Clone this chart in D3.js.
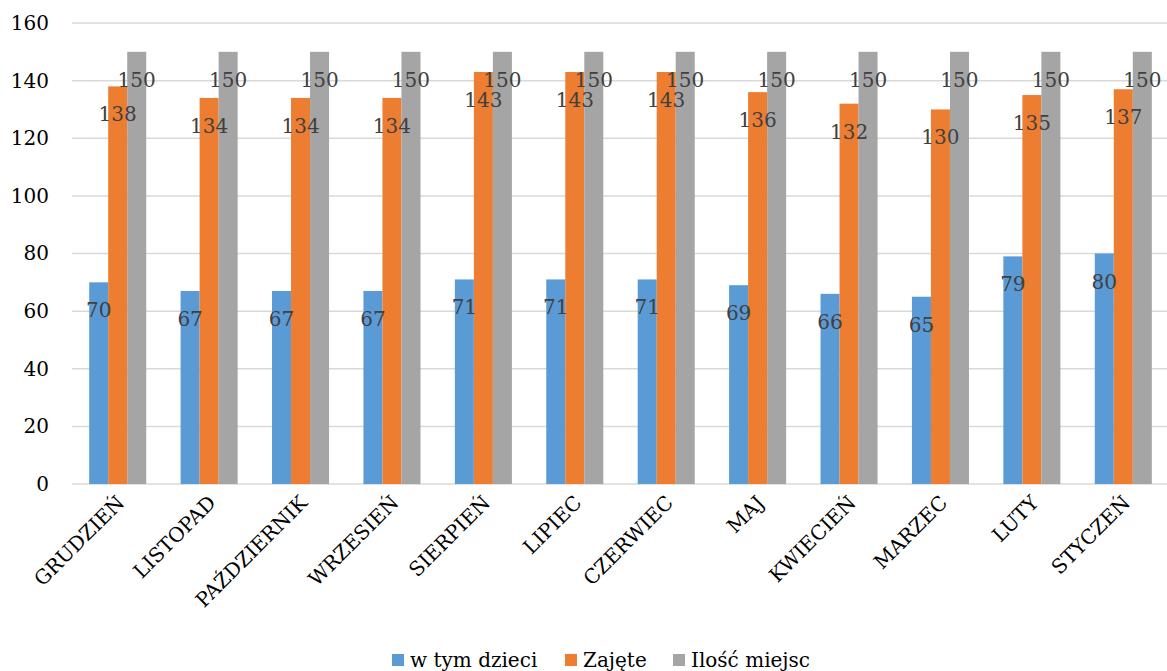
<!DOCTYPE html>
<html><head><meta charset="utf-8">
<script src="https://cdn.jsdelivr.net/npm/d3@7"></script>
<style>body{margin:0;background:#fff}svg{display:block}</style>
</head><body>
<svg id="c" width="1167" height="671"></svg>
<script>
const categories = ["GRUDZIEŃ","LISTOPAD","PAŹDZIERNIK","WRZESIEŃ","SIERPIEŃ","LIPIEC","CZERWIEC","MAJ","KWIECIEŃ","MARZEC","LUTY","STYCZEŃ"];
const seriesNames = ["w tym dzieci","Zajęte","Ilość miejsc"];
const dzieci = [70,67,67,67,71,71,71,69,66,65,79,80];
const zajete = [138,134,134,134,143,143,143,136,132,130,135,137];
const miejsca = [150,150,150,150,150,150,150,150,150,150,150,150];
const yTicks = [0,20,40,60,80,100,120,140,160];
const colors = ["#5b9bd5","#ed7d31","#a5a5a5"];
const seriesValues = [dzieci, zajete, miejsca];

(function(){
const font = "DejaVu Serif, serif";
const fs = 20;
const svg = d3.select("#c");
const pLeft = 72, pRight = 1169, pTop = 23, pBottom = 484;
const x = d3.scaleBand().domain(categories).range([pLeft, pRight]).paddingInner(0.376).paddingOuter(0.188);
const x1 = d3.scaleBand().domain(seriesNames).range([0, x.bandwidth()]);
const y = d3.scaleLinear().domain([0,160]).range([pBottom, pTop]);

svg.append("g").selectAll("line").data(yTicks).join("line")
  .attr("x1", pLeft).attr("x2", 1167).attr("y1", d=>y(d)).attr("y2", d=>y(d))
  .attr("stroke", "#d9d9d9").attr("stroke-width", 1.5);

const yAxis = d3.axisLeft(y).tickValues(yTicks).tickSize(0).tickPadding(0);
const ya = svg.append("g").attr("transform", `translate(49,0)`).call(yAxis);
ya.select(".domain").remove();
ya.selectAll("text").attr("font-family", font).attr("font-size", fs).attr("fill", "#000");

const groups = svg.append("g").selectAll("g").data(categories).join("g")
  .attr("transform", d=>`translate(${x(d)},0)`);
groups.selectAll("rect").data((d,i)=>seriesNames.map((s,j)=>({s, j, v: seriesValues[j][i]}))).join("rect")
  .attr("x", d=>x1(d.s)).attr("width", x1.bandwidth())
  .attr("y", d=>y(d.v)).attr("height", d=>y(0)-y(d.v))
  .attr("fill", d=>colors[d.j]);
groups.selectAll("text").data((d,i)=>seriesNames.map((s,j)=>({s, j, v: seriesValues[j][i]}))).join("text")
  .attr("x", d=>x1(d.s)+x1.bandwidth()/2).attr("y", d=>y(d.v)+28)
  .attr("dy", "0.35em").attr("text-anchor", "middle")
  .attr("font-family", font).attr("font-size", fs).attr("fill", "#404040")
  .text(d=>d.v);

const xAxis = d3.axisBottom(x).tickSize(0).tickPadding(0);
const xa = svg.append("g").attr("transform", `translate(0,${pBottom})`).call(xAxis);
xa.select(".domain").remove();
xa.selectAll("text").attr("font-family", font).attr("font-size", fs).attr("fill", "#000")
  .attr("text-anchor", "end").attr("dy", null).attr("y", 0)
  .attr("transform", "translate(8,20) rotate(-45)");

const legendItems = [{n:seriesNames[0], x:392},{n:seriesNames[1], x:565},{n:seriesNames[2], x:673}];
const lg = svg.append("g").selectAll("g").data(legendItems).join("g")
  .attr("transform", d=>`translate(${d.x},654)`);
lg.append("rect").attr("width", 12).attr("height", 12).attr("fill", (d,i)=>colors[i]);
lg.append("text").attr("x", 18).attr("y", 6).attr("dy", "0.35em")
  .attr("font-family", font).attr("font-size", fs).attr("fill", "#000").text(d=>d.n);
})();
</script>
</body></html>
